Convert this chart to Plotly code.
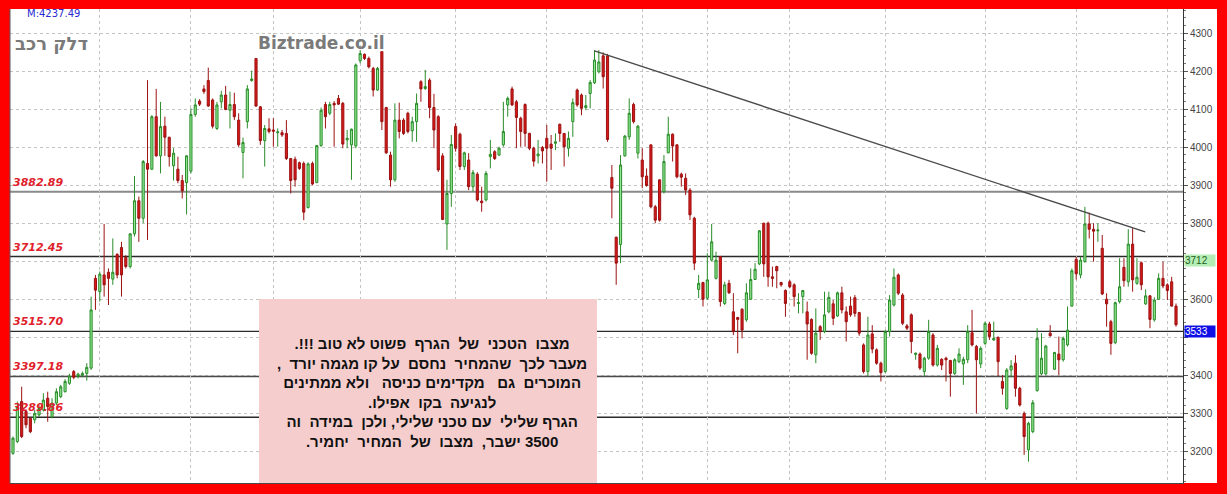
import plotly.graph_objects as go

# Daily OHLC for the stock, oldest first
open_prices = [
    3195, 3226, 3331, 3305, 3287, 3283, 3296, 3309, 3340, 3291,
    3327, 3344, 3357, 3379, 3410, 3398, 3400, 3405, 3419, 3655,
    3620, 3664, 3671, 3653, 3718, 3736, 3710, 3686, 3772, 3859,
    3813, 3957, 3942, 4080, 3977, 4055, 4026, 3951, 3942, 3912,
    3907, 3937, 4086, 4121, 4153, 4175, 4124, 4049, 4119, 4137,
    4097, 4112, 4071, 3986, 4067, 4175, 4233, 4106, 4017, 4048,
    4045, 4038, 4038, 4036, 3970, 3968, 3959, 3957, 3841, 3957,
    3907, 4004, 4112, 4089, 4115, 4128, 4115, 4019, 4006, 4003,
    4227, 4244, 4233, 4207, 4150, 4251, 4104, 3979, 3914, 4071,
    4071, 4089, 4043, 4067, 4172, 4154, 4176, 4104, 4080, 3977,
    3798, 3878, 4054, 4034, 3949, 3966, 3896, 3929, 3858, 3861,
    3975, 3988, 3979, 4006, 4111, 4153, 4119, 4076, 4112, 4036,
    3997, 3977, 3999, 4023, 4008, 4010, 4060, 4036, 3997, 4067,
    4150, 4137, 4104, 4141, 4169, 4198, 4240, 4240, 3920, 3763,
    3744, 3977, 4027, 4112, 3984, 3966, 3924, 4006, 3843, 3914,
    3883, 3985, 4034, 4006, 3929, 3918, 3887, 3813, 3626, 3644,
    3603, 3703, 3655, 3712, 3589, 3642, 3567, 3552, 3574, 3546,
    3600, 3652, 3693, 3800, 3800, 3659, 3686, 3644, 3623, 3646,
    3638, 3589, 3607, 3567, 3547, 3454, 3528, 3515, 3567, 3588,
    3556, 3617, 3567, 3582, 3604, 3565, 3480, 3410, 3509, 3467,
    3432, 3410, 3515, 3585, 3664, 3611, 3530, 3559, 3455, 3456,
    3410, 3445, 3506, 3427, 3442, 3445, 3439, 3405, 3436, 3430,
    3441, 3512, 3476, 3430, 3484, 3535, 3493, 3500, 3384, 3313,
    3414, 3432, 3366, 3300, 3204, 3252, 3360, 3404, 3404, 3511,
    3416, 3456, 3441, 3480, 3582, 3705, 3664, 3699, 3798, 3784,
    3780, 3734, 3600, 3541, 3486, 3594, 3684, 3646, 3745, 3642,
    3696, 3588, 3609, 3546, 3600, 3655, 3638, 3646, 3582,
]
high_prices = [
    3239, 3331, 3370, 3309, 3291, 3309, 3322, 3353, 3357, 3340,
    3366, 3375, 3390, 3404, 3414, 3407, 3410, 3432, 3607, 3664,
    3673, 3798, 3681, 3760, 3721, 3751, 3716, 3773, 3924, 3870,
    3966, 4176, 4084, 4153, 4119, 4080, 4027, 3997, 3975, 3927,
    3979, 4102, 4128, 4126, 4163, 4209, 4128, 4119, 4148, 4161,
    4146, 4143, 4089, 4025, 4163, 4201, 4233, 4108, 4058, 4076,
    4076, 4049, 4045, 4071, 3970, 3975, 3962, 3962, 3960, 3962,
    4006, 4104, 4119, 4119, 4121, 4137, 4119, 4045, 4049, 4220,
    4255, 4246, 4238, 4211, 4211, 4251, 4106, 3988, 4115, 4117,
    4076, 4093, 4080, 4141, 4176, 4203, 4181, 4140, 4084, 3984,
    3914, 4032, 4062, 4038, 3988, 3984, 3940, 3934, 3896, 3937,
    4019, 3992, 4001, 4119, 4133, 4159, 4124, 4080, 4115, 4038,
    4001, 4019, 4003, 4058, 4032, 4036, 4062, 4036, 4041, 4128,
    4154, 4141, 4137, 4176, 4255, 4255, 4249, 4245, 3953, 3765,
    3979, 4032, 4128, 4117, 4058, 3997, 3944, 4006, 3848, 3915,
    3979, 4080, 4036, 4007, 3933, 3931, 3892, 3817, 3664, 3646,
    3721, 3798, 3725, 3714, 3646, 3651, 3616, 3554, 3576, 3642,
    3681, 3695, 3782, 3801, 3804, 3686, 3688, 3646, 3626, 3651,
    3642, 3616, 3624, 3594, 3550, 3576, 3532, 3620, 3620, 3598,
    3620, 3633, 3581, 3607, 3611, 3567, 3484, 3554, 3532, 3471,
    3436, 3519, 3611, 3681, 3668, 3616, 3535, 3563, 3460, 3460,
    3449, 3546, 3511, 3480, 3445, 3449, 3441, 3445, 3471, 3449,
    3532, 3572, 3480, 3476, 3541, 3541, 3541, 3502, 3401, 3419,
    3440, 3453, 3370, 3305, 3278, 3335, 3524, 3511, 3480, 3532,
    3462, 3502, 3502, 3581, 3681, 3712, 3712, 3843, 3828, 3800,
    3800, 3769, 3616, 3546, 3594, 3708, 3708, 3784, 3787, 3708,
    3699, 3626, 3611, 3605, 3668, 3699, 3642, 3659, 3589,
]
low_prices = [
    3191, 3222, 3235, 3261, 3248, 3274, 3291, 3305, 3278, 3287,
    3322, 3340, 3355, 3375, 3390, 3392, 3395, 3386, 3414, 3572,
    3594, 3607, 3585, 3638, 3655, 3607, 3681, 3681, 3765, 3751,
    3800, 3756, 3940, 3975, 3931, 3977, 3949, 3912, 3905, 3865,
    3823, 3931, 4080, 4108, 4140, 4106, 4049, 4045, 4102, 4097,
    4049, 4071, 4001, 3918, 4049, 4172, 4106, 4006, 3949, 4036,
    4001, 4001, 4027, 3966, 3878, 3896, 3940, 3808, 3839, 3900,
    3905, 4001, 4049, 4084, 4001, 4111, 3997, 3997, 3914, 3997,
    4220, 4229, 4207, 4133, 4148, 4045, 3982, 3896, 3909, 4023,
    4032, 4036, 4014, 4014, 4119, 4150, 4076, 3997, 3935, 3808,
    3730, 3843, 3988, 3940, 3940, 3887, 3883, 3857, 3830, 3857,
    3944, 3966, 3977, 4001, 4080, 4108, 3997, 4001, 4001, 3992,
    3949, 3957, 3957, 3909, 3940, 3992, 4014, 3949, 3975, 4027,
    4106, 4084, 4097, 4102, 4166, 4194, 4154, 4014, 3813, 3638,
    3695, 3975, 4019, 4062, 3970, 3892, 3896, 3839, 3800, 3804,
    3878, 3984, 3962, 3918, 3896, 3874, 3808, 3677, 3603, 3581,
    3598, 3699, 3652, 3581, 3585, 3614, 3506, 3458, 3497, 3541,
    3598, 3651, 3690, 3659, 3633, 3633, 3629, 3633, 3554, 3629,
    3581, 3563, 3563, 3441, 3454, 3432, 3493, 3511, 3563, 3532,
    3554, 3563, 3489, 3554, 3554, 3504, 3405, 3397, 3458, 3428,
    3384, 3405, 3502, 3581, 3611, 3532, 3519, 3458, 3441, 3414,
    3397, 3441, 3423, 3423, 3414, 3384, 3344, 3401, 3432, 3375,
    3432, 3476, 3300, 3419, 3480, 3493, 3491, 3398, 3349, 3309,
    3395, 3344, 3318, 3191, 3173, 3248, 3357, 3401, 3401, 3502,
    3414, 3401, 3436, 3476, 3581, 3652, 3655, 3696, 3760, 3699,
    3751, 3611, 3528, 3454, 3482, 3589, 3633, 3633, 3620, 3638,
    3624, 3585, 3524, 3541, 3598, 3629, 3598, 3581, 3528,
]
close_prices = [
    3235, 3318, 3239, 3270, 3252, 3300, 3313, 3335, 3318, 3327,
    3357, 3370, 3384, 3398, 3395, 3403, 3405, 3421, 3572, 3624,
    3666, 3638, 3655, 3671, 3664, 3664, 3686, 3772, 3859, 3813,
    3962, 3942, 4080, 3977, 4054, 4026, 3975, 3984, 3912, 3885,
    3977, 4086, 4111, 4113, 4146, 4108, 4055, 4111, 4137, 4099,
    4112, 4080, 4006, 4012, 4153, 4179, 4108, 4017, 4049, 4041,
    4042, 4040, 4032, 3970, 3912, 3914, 3944, 3829, 3956, 3903,
    4004, 4097, 4080, 4112, 4111, 4113, 4008, 4023, 4047, 4216,
    4246, 4233, 4211, 4150, 4207, 4067, 3985, 3914, 4071, 4041,
    4036, 4041, 4067, 4115, 4153, 4159, 4104, 4045, 3940, 3810,
    3878, 4007, 3997, 3949, 3985, 3896, 3933, 3861, 3854, 3931,
    3981, 3970, 3997, 4041, 4128, 4111, 4078, 4041, 4036, 3997,
    3963, 3982, 3990, 3997, 3997, 4014, 4036, 4001, 4023, 4117,
    4111, 4102, 4109, 4170, 4229, 4224, 4185, 4020, 3892, 3695,
    3953, 4029, 4089, 4067, 4055, 3922, 3899, 3843, 3808, 3808,
    3962, 4034, 4003, 3922, 3921, 3887, 3822, 3695, 3642, 3600,
    3651, 3751, 3703, 3594, 3638, 3617, 3515, 3547, 3519, 3617,
    3652, 3679, 3780, 3693, 3659, 3655, 3675, 3638, 3589, 3633,
    3607, 3591, 3623, 3535, 3458, 3511, 3515, 3559, 3605, 3550,
    3617, 3572, 3541, 3559, 3563, 3511, 3410, 3506, 3469, 3432,
    3407, 3515, 3598, 3658, 3616, 3537, 3524, 3489, 3458, 3419,
    3445, 3515, 3427, 3471, 3427, 3441, 3405, 3441, 3456, 3442,
    3515, 3480, 3441, 3471, 3537, 3502, 3497, 3436, 3366, 3414,
    3425, 3366, 3322, 3239, 3274, 3328, 3497, 3445, 3477, 3504,
    3460, 3441, 3497, 3519, 3675, 3667, 3703, 3798, 3784, 3779,
    3782, 3614, 3588, 3484, 3591, 3633, 3649, 3745, 3651, 3658,
    3638, 3609, 3547, 3598, 3655, 3635, 3623, 3582, 3533,
]

# Session index where each new month starts (vertical grid)
month_breaks = [20, 41, 60, 80, 102, 123, 145, 160, 179, 201, 224, 245, 266]

# Support / resistance levels drawn across the chart
levels = [3882.89, 3712.45, 3515.70, 3397.18, 3289.86]
level_colors = ["#8a8a8a", "#2a2a2a", "#2a2a2a", "#4a4a4a", "#2a2a2a"]
level_widths = [2, 1.3, 1.3, 1.6, 1.3]

# Falling resistance line (session index, price)
trend_x = [134, 260.9]
trend_y = [4253, 3777]

y_ticks = [3200, 3300, 3400, 3500, 3600, 3700, 3800, 3900, 4000, 4100, 4200, 4300]
period_high = 4237.49
ref_price = 3712

title_he = "דלק רכב"
site_name = "Biztrade.co.il"
comment_lines = [
    "מצבו  הטכני  של  הגרף  פשוט לא טוב !!!.",
    "מעבר לכך  שהמחיר  נחסם  על קו מגמה יורד  ,",
    "המוכרים  גם   מקדימים כניסה   ולא ממתינים",
    "לנגיעה  בקו  אפילו.",
    "הגרף שלילי  עם טכני שלילי, ולכן  במידה  וה",
    "3500 ישבר,  מצבו  של  המחיר  יחמיר.",
]

W, H = 1227, 494
ML, MR, MT, MB = 10, 44, 9, 11
PW, PH = W - ML - MR, H - MT - MB


def px_x(x):
    return (x - ML) / PW


def px_y(y):
    return (H - MB - y) / PH


def rtl(s):
    # keep runs of spaces and force right-to-left reading order
    s = s.replace("  ", " \u00a0")
    return "\u202b" + s + "\u202c"


n = len(close_prices)
idx = list(range(n))
last_close = close_prices[-1]

# price-scale labels hidden behind the marker boxes
tick_text = ["" if abs(t - ref_price) < 50 or abs(t - last_close) < 50 else str(t) for t in y_ticks]

fig = go.Figure()
fig.add_trace(go.Candlestick(
    x=idx, open=open_prices, high=high_prices, low=low_prices, close=close_prices,
    increasing=dict(line=dict(color="#2a8c2a", width=1), fillcolor="#92e892"),
    decreasing=dict(line=dict(color="#9c1212", width=1), fillcolor="#d81818"),
    whiskerwidth=0, showlegend=False, hoverinfo="skip",
))

shapes = []
for lv, c, w in zip(levels, level_colors, level_widths):
    shapes.append(dict(type="line", xref="paper", x0=0, x1=1, yref="y", y0=lv, y1=lv,
                       line=dict(color=c, width=w), layer="below"))
shapes.append(dict(type="line", xref="x", yref="y", x0=trend_x[0], y0=trend_y[0],
                   x1=trend_x[1], y1=trend_y[1], line=dict(color="#4a4a4a", width=1.4),
                   layer="above"))
# white strip behind the price scale
shapes.append(dict(type="rect", xref="paper", yref="paper", x0=1, x1=px_x(1217), y0=0, y1=1,
                   fillcolor="white", line=dict(width=0), layer="below"))
# left frame edge
shapes.append(dict(type="line", xref="paper", yref="paper", x0=0, x1=0, y0=0, y1=1,
                   line=dict(color="#5a5a5a", width=1)))
# comment box
shapes.append(dict(type="rect", xref="paper", yref="paper", x0=px_x(259), x1=px_x(597),
                   y0=0, y1=px_y(299), fillcolor="#f6cdcd", line=dict(width=0), layer="above"))

annotations = []
for lv in levels:
    annotations.append(dict(xref="paper", yref="y", x=0, y=lv, xanchor="left", yanchor="bottom",
                            xshift=1, yshift=1, showarrow=False, text=f"{lv:.2f}",
                            font=dict(family="DejaVu Sans", size=11, color="#e0202a",
                                      weight="bold", style="italic")))
annotations += [
    dict(xref="paper", yref="paper", x=px_x(25), y=px_y(13), xanchor="left", yanchor="middle",
         showarrow=False, text=f"M:{period_high:.2f}",
         font=dict(family="DejaVu Sans", size=10, color="#2a2ad0")),
    dict(xref="paper", yref="paper", x=px_x(13), y=px_y(44), xanchor="left", yanchor="middle",
         showarrow=False, text=title_he,
         font=dict(family="DejaVu Sans", size=18, color="#7a7a7a", weight="bold")),
    dict(xref="paper", yref="paper", x=px_x(256), y=px_y(43), xanchor="left", yanchor="middle",
         showarrow=False, text=site_name,
         font=dict(family="DejaVu Sans", size=17, color="#7a7a7a", weight="bold")),
    dict(xref="paper", yref="paper", x=px_x(432), y=px_y(392), xanchor="center", yanchor="middle",
         showarrow=False, align="center", text="<br>".join(rtl(s) for s in comment_lines),
         font=dict(family="Liberation Sans, Arial, DejaVu Sans", size=15, color="#111111",
                   weight="bold")),
    dict(xref="paper", yref="y", x=1, y=ref_price, xanchor="left", yanchor="middle",
         xshift=1, yshift=-4, showarrow=False, text=str(ref_price), width=30, align="left",
         bgcolor="#b4eeb4", borderpad=0,
         font=dict(family="Liberation Sans, Arial", size=10, color="#1d5f1d")),
    dict(xref="paper", yref="y", x=1, y=last_close, xanchor="left", yanchor="middle",
         xshift=1, yshift=-7, showarrow=False, text=str(last_close), width=30, align="left",
         bgcolor="#1010e6", borderpad=0,
         font=dict(family="Liberation Sans, Arial", size=10, color="white")),
]

fig.update_layout(
    width=W, height=H,
    margin=dict(l=ML, r=MR, t=MT, b=MB, pad=0),
    paper_bgcolor="#ff0000", plot_bgcolor="white",
    shapes=shapes, annotations=annotations,
    showlegend=False,
    xaxis=dict(range=[-0.69, n - 1 + 1.61], rangeslider=dict(visible=False),
               tickvals=month_breaks, showticklabels=False, ticks="",
               showgrid=True, gridcolor="#c4c4c4", griddash="dot", gridwidth=1,
               zeroline=False, showline=True, linecolor="#4a4a4a", linewidth=1),
    yaxis=dict(side="right", range=[3117, 4363.1], tickvals=y_ticks, ticktext=tick_text,
               ticks="outside", ticklen=4, tickcolor="#555555",
               tickfont=dict(family="Liberation Sans, Arial", size=10, color="#444444"),
               showgrid=True, gridcolor="#c4c4c4", griddash="dot", gridwidth=1,
               zeroline=False, showline=True, linecolor="#333333", linewidth=1,
               minor=dict(dtick=20, ticks="outside", ticklen=2, tickcolor="#777777",
                          showgrid=False)),
)

fig.write_html("out.html")
